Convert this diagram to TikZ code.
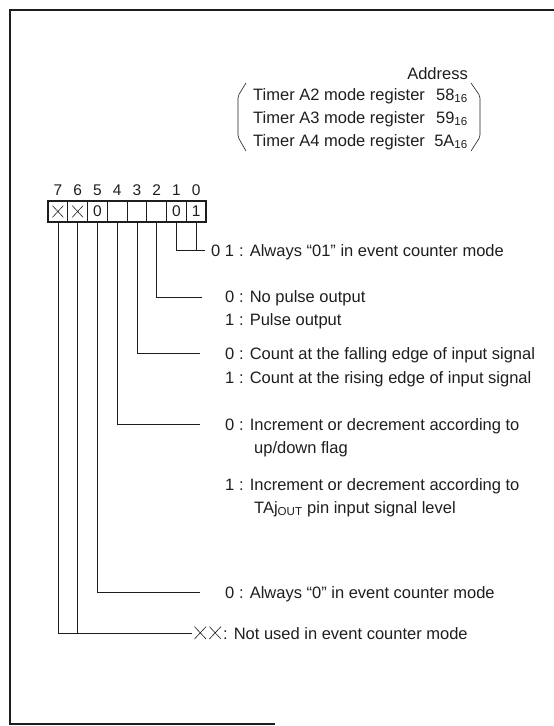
\documentclass[tikz,border=0pt]{standalone}
\usepackage{fontspec}
\usepackage{amsmath}
\setmainfont{Liberation Sans}
\usepackage{tikz}
\definecolor{Cink}{RGB}{30, 30, 30}
\tikzset{
    cbit/.style={
        rectangle, draw=Cink, line width=0.6pt, minimum width=19.75pt,
        minimum height=21pt, inner sep=0pt, text=Cink,
        font=\fontsize{15.5}{18}\selectfont
    },
    cnum/.style={anchor=base, inner sep=0pt, text=Cink, font=\fontsize{15.5}{18}\selectfont},
    ctext/.style={anchor=base west, inner sep=0pt, text=Cink, font=\fontsize{16.5}{20}\selectfont},
    chead/.style={ctext},
    cline/.style={line width=0.8pt, Cink},
    cframe/.style={line width=2pt, Cink},
}
\newcommand{\crossmark}{\tikz[baseline=0pt]\draw[line width=0.6pt] (0,0) -- (0.7em,0.75em) (0,0.75em) -- (0.7em,0);}
\newcommand{\keyrow}[3][11pt]{\makebox[#1][l]{#2}\hspace{3pt}:\hspace{6pt}#3}

\begin{document}
\begin{tikzpicture}[x=1pt, y=-1pt]
    \useasboundingbox (0,0) rectangle (554,726);
    \draw [cframe] (554,10) -- (10,10) -- (10,724) -- (275,724);

    % address table
    \node [chead, anchor=base east] (addr) at (468,79) {Address};
    \foreach \n/\a [count=\i] in {2/58, 3/59, 4/5A} {
        \node [chead] (reg\n) at (253,77+23*\i) {Timer A\n\ mode register};
        \node [chead, anchor=base east] (adr\n) at (468,77+23*\i) {\a$_{\text{16}}$};
    }
    \draw [cline, line width=0.6pt, rounded corners=2pt] (246,83) -- (238,96) -- (238,137) -- (246,151);
    \draw [cline, line width=0.6pt, rounded corners=2pt] (471,83) -- (480,96) -- (480,137) -- (471,151);

    % register bits
    \foreach \b/\c in {7/\crossmark, 6/\crossmark, 5/0, 4/{}, 3/{}, 2/{}, 1/0, 0/1} {
        \node [cbit] (b\b) at ({57.9+19.75*(7-\b)},211.5) {\c};
        \node [cnum] (n\b) at ({57.9+19.75*(7-\b)},195.5) {\b};
    }
    \draw [Cink, line width=1.8pt] (b7.north west) rectangle (b0.south east);

    % bits 1, 0
    \coordinate (e10) at (205,250);
    \draw [cline] (b1.south) |- (e10);
    \draw [cline] (b0.south) -- (b0.south |- e10);
    \node [ctext] (k10) at (211,256) {\keyrow[25pt]{0 1}{Always “01” in event counter mode}};

    % bit 2
    \coordinate (e2) at (202,297);
    \draw [cline] (b2.south) |- (e2);
    \node [ctext] (k2a) at (225,302) {\keyrow{0}{No pulse output}};
    \node [ctext] (k2b) at (225,325) {\keyrow{1}{Pulse output}};

    % bit 3
    \coordinate (e3) at (200,353);
    \draw [cline] (b3.south) |- (e3);
    \node [ctext] (k3a) at (225,359) {\keyrow{0}{Count at the falling edge of input signal}};
    \node [ctext] (k3b) at (225,383) {\keyrow{1}{Count at the rising edge of input signal}};

    % bit 4
    \coordinate (e4) at (200,424);
    \draw [cline] (b4.south) |- (e4);
    \node [ctext] (k4a) at (225,430) {\keyrow{0}{Increment or decrement according to}};
    \node [ctext] (k4c) at (254,453) {up/down flag};
    \node [ctext] (k4b) at (225,490) {\keyrow{1}{Increment or decrement according to}};
    \node [ctext] (k4d) at (254,513) {TAj$_{\text{OUT}}$ pin input signal level};

    % bit 5
    \coordinate (e5) at (200,592);
    \draw [cline] (b5.south) |- (e5);
    \node [ctext] (k5) at (225,598) {\keyrow{0}{Always “0” in event counter mode}};

    % bits 7, 6
    \coordinate (e76) at (192,633);
    \draw [cline] (b7.south) |- (e76);
    \draw [cline] (b6.south) -- (b6.south |- e76);
    \node [ctext] (k76) at (194,639) {\keyrow[26pt]{\crossmark\,\crossmark}{Not used in event counter mode}};
\end{tikzpicture}
\end{document}
